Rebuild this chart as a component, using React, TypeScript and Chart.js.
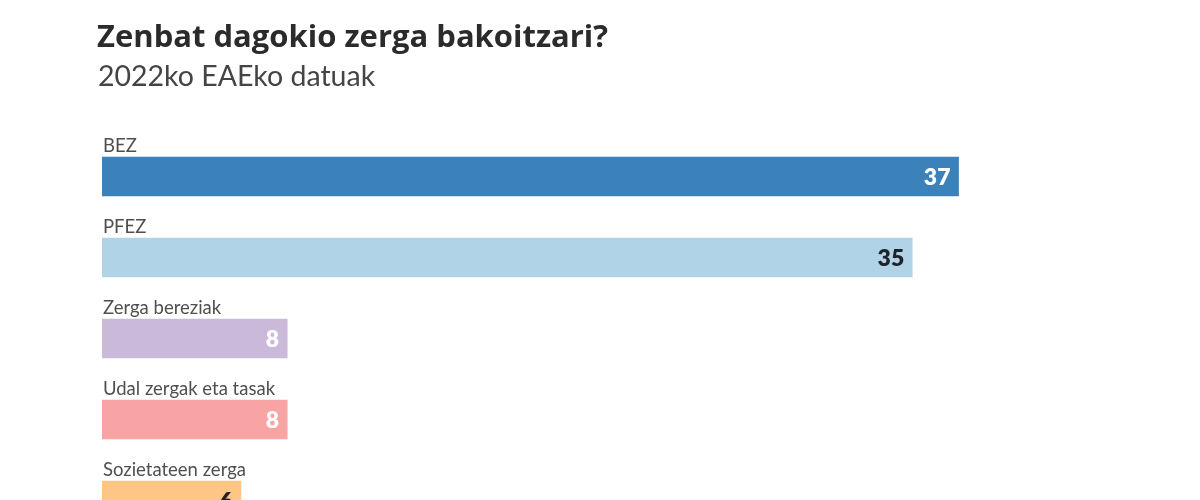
import { useEffect, useRef } from 'react'
import { Chart, registerables, type Plugin } from 'chart.js'

Chart.register(...registerables)

const categories = ['BEZ', 'PFEZ', 'Zerga bereziak', 'Udal zergak eta tasak', 'Sozietateen zerga']
const values = [37, 35, 8, 8, 6]
const barColors = ['#3a82b9', '#b0d3e8', '#cbb9d9', '#f8a3a4', '#fdc684']
const valueColors = ['#ffffff', '#1f2328', '#ffffff', '#ffffff', '#1f2328']

const FONT = 'Lato, "Noto Sans", sans-serif'

// draws the category name above each bar and the value inside its right end
const barText: Plugin<'bar'> = {
  id: 'barText',
  afterDatasetsDraw(chart) {
    const { ctx } = chart
    const meta = chart.getDatasetMeta(0)
    ctx.save()
    meta.data.forEach((el, i) => {
      const bar = el as unknown as { x: number; y: number; base: number; height: number }
      const top = bar.y - bar.height / 2
      ctx.font = `400 18.5px ${FONT}`
      ctx.fillStyle = '#4f4f4f'
      ctx.textAlign = 'left'
      ctx.textBaseline = 'alphabetic'
      ctx.fillText(categories[i], bar.base + 1, top - 5)

      ctx.font = `800 23px ${FONT}`
      ctx.fillStyle = valueColors[i]
      ctx.textAlign = 'right'
      ctx.textBaseline = 'middle'
      ctx.fillText(String(values[i]), bar.x - 8, bar.y + 1)
    })
    ctx.restore()
  },
}

function TaxChart() {
  const chartRef = useRef<HTMLCanvasElement>(null)
  const chartInstance = useRef<Chart | null>(null)

  useEffect(() => {
    if (!chartRef.current) return
    if (chartInstance.current) chartInstance.current.destroy()

    chartInstance.current = new Chart(chartRef.current, {
      type: 'bar',
      data: {
        labels: categories,
        datasets: [
          {
            data: values,
            backgroundColor: barColors,
            borderWidth: 0,
            barThickness: 39,
          },
        ],
      },
      options: {
        indexAxis: 'y',
        animation: false,
        responsive: false,
        devicePixelRatio: 1,
        layout: { padding: { left: 102, right: 172, top: 136, bottom: 19 } },
        plugins: {
          legend: { display: false },
          tooltip: { enabled: false },
        },
        scales: {
          x: { display: false, min: 0, max: 40 },
          y: { display: false },
        },
      },
      plugins: [barText],
    })

    return () => {
      if (chartInstance.current) {
        chartInstance.current.destroy()
        chartInstance.current = null
      }
    }
  }, [])

  return <canvas ref={chartRef} width={1200} height={560} style={{ display: 'block' }} />
}

export default function App() {
  return (
    <div
      style={{
        position: 'fixed',
        inset: 0,
        width: 1200,
        height: 500,
        overflow: 'hidden',
        background: '#ffffff',
        fontFamily: FONT,
      }}
    >
      <div style={{ position: 'absolute', top: 0, left: 0 }}>
        <TaxChart />
      </div>
      <div
        style={{
          position: 'absolute',
          left: 97,
          top: 14,
          fontFamily: '"Open Sans", Lato, sans-serif',
          fontSize: 31,
          fontWeight: 700,
          color: '#2b2b2b',
          whiteSpace: 'nowrap',
        }}
      >
        Zenbat dagokio zerga bakoitzari?
      </div>
      <div
        style={{
          position: 'absolute',
          left: 98,
          top: 58,
          fontSize: 28.5,
          fontWeight: 400,
          color: '#444444',
          whiteSpace: 'nowrap',
        }}
      >
        2022ko EAEko datuak
      </div>
    </div>
  )
}
